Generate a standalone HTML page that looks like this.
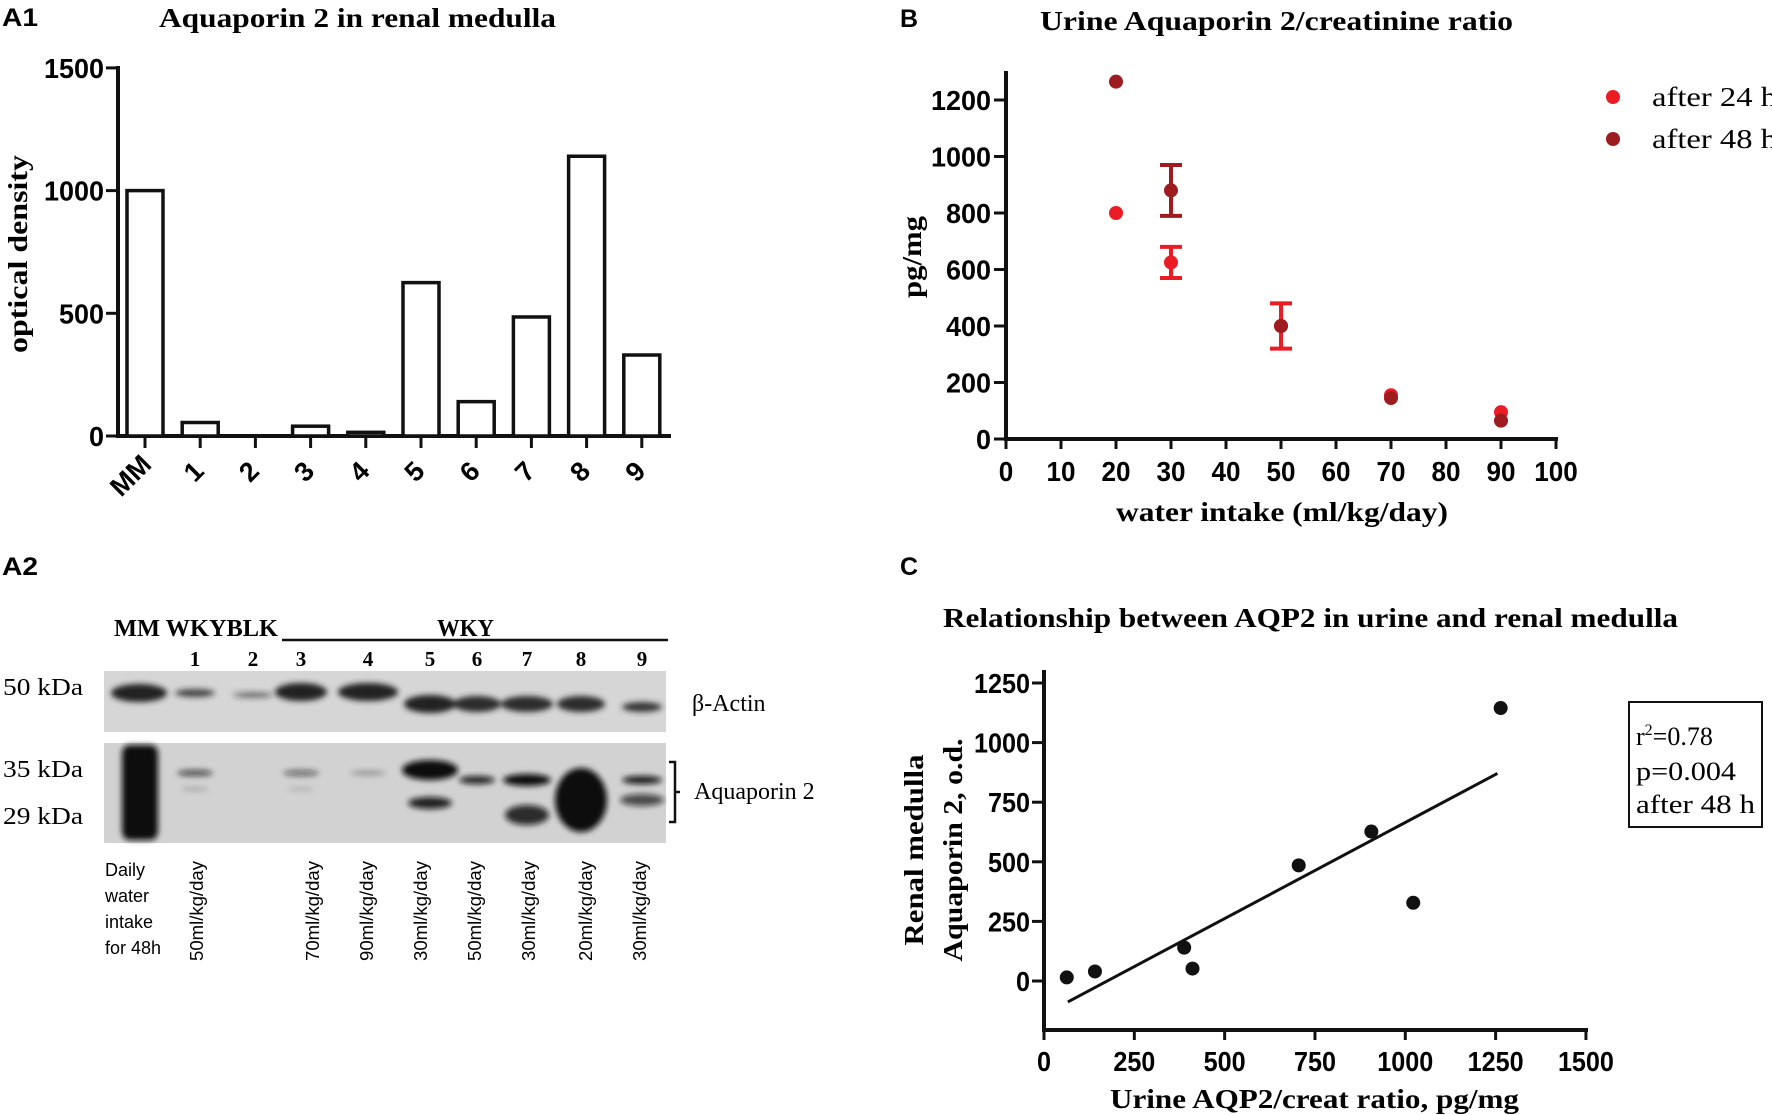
<!DOCTYPE html>
<html><head><meta charset="utf-8"><style>
html,body{margin:0;padding:0;background:#fff;overflow:hidden;}
svg{display:block;}
.ser{font-family:"Liberation Serif",serif;}
.san{font-family:"Liberation Sans",sans-serif;}
</style></head><body>
<svg id="fig" width="1772" height="1115" viewBox="0 0 1772 1115" xmlns="http://www.w3.org/2000/svg">
<defs>
<filter id="blur" x="-50%" y="-50%" width="200%" height="200%"><feGaussianBlur stdDeviation="3"/></filter>
</defs>
<text x="2" y="26" class="san" font-weight="bold" font-size="25" textLength="36" lengthAdjust="spacingAndGlyphs">A1</text>
<text x="900" y="27" class="san" font-weight="bold" font-size="25">B</text>
<text x="2" y="575" class="san" font-weight="bold" font-size="25" textLength="36" lengthAdjust="spacingAndGlyphs">A2</text>
<text x="900" y="575" class="san" font-weight="bold" font-size="25">C</text>

<text x="159" y="27" class="ser" font-weight="bold" font-size="27" textLength="397" lengthAdjust="spacingAndGlyphs">Aquaporin 2 in renal medulla</text>
<text x="1040" y="30" class="ser" font-weight="bold" font-size="27" textLength="473" lengthAdjust="spacingAndGlyphs">Urine Aquaporin 2/creatinine ratio</text>
<text x="943" y="627" class="ser" font-weight="bold" font-size="27" textLength="735" lengthAdjust="spacingAndGlyphs">Relationship between AQP2 in urine and renal medulla</text>

<g id="a1"></g>
<g id="b"></g>
<g id="c"></g>
<g id="a2"></g>
</svg>
<script>
// ---- A1 data
const a1Categories = ["MM","1","2","3","4","5","6","7","8","9"];
const a1Values = [1000,55,0,40,15,625,140,485,1140,330];
const a1Ticks = [0,500,1000,1500];
// ---- B data
const bX = [20,30,50,70,90];
const b24Values = [800,625,400,155,95];
const b24ErrLow = [800,570,320,155,95];
const b24ErrHigh = [800,680,480,155,95];
const b48Values = [1265,880,400,145,65];
const b48ErrLow = [1265,790,400,145,65];
const b48ErrHigh = [1265,970,400,145,65];
const bXTicks = [0,10,20,30,40,50,60,70,80,90,100];
const bYTicks = [0,200,400,600,800,1000,1200];
// ---- C data
const cX = [63,141,388,411,705,906,1022,1264];
const cY = [15,40,140,52,485,627,328,1145];
const cFitSlope = [0.806];
const cFitIntercept = [-141];
const cFitRange = [66,1255];
const cXTicks = [0,250,500,750,1000,1250,1500];
const cYTicks = [0,250,500,750,1000,1250];
// ---- A2 labels
const a2LaneNums = ["1","2","3","4","5","6","7","8","9"];
const a2Intake = ["50ml/kg/day","70ml/kg/day","90ml/kg/day","30ml/kg/day","50ml/kg/day","30ml/kg/day","20ml/kg/day","30ml/kg/day"];

const NS="http://www.w3.org/2000/svg";
function mk(tag, parent, attrs){const e=document.createElementNS(NS,tag);for(const k in attrs)e.setAttribute(k,attrs[k]);parent.appendChild(e);return e;}
function txt(parent,x,y,s,size,cls,extra){const e=mk("text",parent,Object.assign({x:x,y:y,"font-size":size,class:cls},extra||{}));e.textContent=s;return e;}

// ===== A1
(function(){
const g=document.getElementById("a1");
const y0=436, per=122.7/500;
const yA=v=>y0-v*per;
const xA=i=>145+i*55.2;
let e=mk("line",g,{x1:118,y1:66,x2:118,y2:438,stroke:"#111","stroke-width":4});


e=mk("line",g,{x1:116,y1:y0,x2:671,y2:y0,stroke:"#111","stroke-width":4});


a1Ticks.forEach(t=>{
 mk("line",g,{x1:106,y1:yA(t),x2:118,y2:yA(t),stroke:"#111","stroke-width":3});
 const l=txt(g,104,yA(t)+10,String(t),28,"san",{"font-weight":"bold","text-anchor":"end",textLength:String(t).length*15,lengthAdjust:"spacingAndGlyphs"});
 
 
});
a1Categories.forEach((c,i)=>{
 const x=xA(i);
 const r=mk("rect",g,{x:x-18,y:yA(a1Values[i]),width:36,height:y0-yA(a1Values[i]),fill:"#fff",stroke:"#111","stroke-width":3.5});
 
 
 mk("line",g,{x1:x,y1:y0,x2:x,y2:448,stroke:"#111","stroke-width":3});
 const l=txt(g,0,0,c,27,"san",{"font-weight":"bold","text-anchor":"middle",transform:"translate("+(x-(c.length>1?8:0))+","+(c.length>1?482:478)+") rotate(-45)"});
 
 
});
const yl=txt(g,0,0,"optical density",27,"ser",{"font-weight":"bold","text-anchor":"middle",transform:"translate(27,254) rotate(-90)",textLength:198,lengthAdjust:"spacingAndGlyphs"});


})();

// ===== B
(function(){
const g=document.getElementById("b");
const xB=v=>1006+v*5.5;
const yB=v=>439-v*56.5/200;
let e=mk("line",g,{x1:1006,y1:71,x2:1006,y2:441,stroke:"#111","stroke-width":4});


e=mk("line",g,{x1:1004,y1:439,x2:1558,y2:439,stroke:"#111","stroke-width":4});


bYTicks.forEach(t=>{
 mk("line",g,{x1:994,y1:yB(t),x2:1006,y2:yB(t),stroke:"#111","stroke-width":3});
 const l=txt(g,991,yB(t)+10,String(t),28,"san",{"font-weight":"bold","text-anchor":"end",textLength:String(t).length*15,lengthAdjust:"spacingAndGlyphs"});
 
 
});
bXTicks.forEach(t=>{
 mk("line",g,{x1:xB(t),y1:439,x2:xB(t),y2:449,stroke:"#111","stroke-width":3});
 const l=txt(g,xB(t),481,String(t),28,"san",{"font-weight":"bold","text-anchor":"middle",textLength:String(t).length*14.5,lengthAdjust:"spacingAndGlyphs"});
 
 
});
function series(vals,lo,hi,col,name){
 vals.forEach((v,i)=>{
  const x=xB(bX[i]);
  if(hi[i]!==lo[i]){
   const eb=mk("g",g,{stroke:col,"stroke-width":4});
   
   
   mk("line",eb,{x1:x,y1:yB(hi[i]),x2:x,y2:yB(lo[i])});
   mk("line",eb,{x1:x-11,y1:yB(hi[i]),x2:x+11,y2:yB(hi[i])});
   mk("line",eb,{x1:x-11,y1:yB(lo[i]),x2:x+11,y2:yB(lo[i])});
  }
  const c=mk("ellipse",g,{cx:x,cy:yB(v),rx:7,ry:7,fill:col});
  
  
 });
}
series(b24Values,b24ErrLow,b24ErrHigh,"#ec1c24","b-after-24h");
series(b48Values,b48ErrLow,b48ErrHigh,"#9e1b20","b-after-48h");
let d=mk("ellipse",g,{cx:1613,cy:97,rx:7,ry:7,fill:"#ec1c24"});


d=mk("ellipse",g,{cx:1613,cy:139,rx:7,ry:7,fill:"#9e1b20"});


let l=txt(g,1652,106,"after 24 h",27,"ser",{textLength:125,lengthAdjust:"spacingAndGlyphs"});


l=txt(g,1652,148,"after 48 h",27,"ser",{textLength:125,lengthAdjust:"spacingAndGlyphs"});


l=txt(g,1116,521,"water intake (ml/kg/day)",27,"ser",{"font-weight":"bold",textLength:332,lengthAdjust:"spacingAndGlyphs"});


l=txt(g,0,0,"pg/mg",27,"ser",{"font-weight":"bold","text-anchor":"middle",transform:"translate(921,257) rotate(-90)",textLength:82,lengthAdjust:"spacingAndGlyphs"});


})();

// ===== C
(function(){
const g=document.getElementById("c");
const xC=v=>1044+v*0.3613;
const yC=v=>981-v*59.6/250;
let e=mk("line",g,{x1:1044,y1:670,x2:1044,y2:1032,stroke:"#111","stroke-width":4});


e=mk("line",g,{x1:1042,y1:1030,x2:1588,y2:1030,stroke:"#111","stroke-width":4});


cYTicks.forEach(t=>{
 mk("line",g,{x1:1032,y1:yC(t),x2:1044,y2:yC(t),stroke:"#111","stroke-width":3});
 const l=txt(g,1030,yC(t)+10,String(t),28,"san",{"font-weight":"bold","text-anchor":"end",textLength:String(t).length*14,lengthAdjust:"spacingAndGlyphs"});
 
 
});
cXTicks.forEach(t=>{
 mk("line",g,{x1:xC(t),y1:1030,x2:xC(t),y2:1040,stroke:"#111","stroke-width":3});
 const l=txt(g,xC(t),1071,String(t),28,"san",{"font-weight":"bold","text-anchor":"middle",textLength:String(t).length*14,lengthAdjust:"spacingAndGlyphs"});
 
 
});
const f=mk("line",g,{x1:xC(cFitRange[0]),y1:yC(cFitSlope[0]*cFitRange[0]+cFitIntercept[0]),x2:xC(cFitRange[1]),y2:yC(cFitSlope[0]*cFitRange[1]+cFitIntercept[0]),stroke:"#111","stroke-width":3});


cX.forEach((x,i)=>{
 const c=mk("ellipse",g,{cx:xC(x),cy:yC(cY[i]),rx:7,ry:7,fill:"#111"});
 
 
});
const box=mk("rect",g,{x:1629,y:702,width:133,height:125,fill:"#fff",stroke:"#111","stroke-width":2});


let l=txt(g,1636,745,"",26,"ser",{});
l.innerHTML='r<tspan dy="-10" font-size="16">2</tspan><tspan dy="10">=0.78</tspan>';


l=txt(g,1636,780,"p=0.004",26,"ser",{textLength:100,lengthAdjust:"spacingAndGlyphs"});


l=txt(g,1636,813,"after 48 h",26,"ser",{textLength:119,lengthAdjust:"spacingAndGlyphs"});


l=txt(g,1110,1108,"Urine AQP2/creat ratio, pg/mg",27,"ser",{"font-weight":"bold",textLength:409,lengthAdjust:"spacingAndGlyphs"});


l=txt(g,0,0,"Renal medulla",27,"ser",{"font-weight":"bold","text-anchor":"middle",transform:"translate(923,850) rotate(-90)",textLength:191,lengthAdjust:"spacingAndGlyphs"});


l=txt(g,0,0,"Aquaporin 2, o.d.",27,"ser",{"font-weight":"bold","text-anchor":"middle",transform:"translate(962,850) rotate(-90)",textLength:223,lengthAdjust:"spacingAndGlyphs"});


})();

// ===== A2 blot
(function(){
const g=document.getElementById("a2");
const laneX=[139,195,253,301,368,430,477,527,581,642];
let l=txt(g,114,636,"MM WKYBLK",24,"ser",{"font-weight":"bold",textLength:164,lengthAdjust:"spacingAndGlyphs"});


l=txt(g,437,636,"WKY",24,"ser",{"font-weight":"bold",textLength:57,lengthAdjust:"spacingAndGlyphs"});


mk("line",g,{x1:282,y1:640,x2:668,y2:640,stroke:"#111","stroke-width":2.5});
a2LaneNums.forEach((n,i)=>{
 const t=txt(g,laneX[i+1],666,n,21,"ser",{"font-weight":"bold","text-anchor":"middle"});
 
 
});
const p1=mk("rect",g,{x:104,y:671,width:562,height:61,fill:"#d6d6d6"});


const p2=mk("rect",g,{x:104,y:743,width:562,height:100,fill:"#d2d2d2"});


const actin=[[139,28,9,1,693],[195,20,4,0.8,693],[253,20,3,0.55,695],[301,26,9,1,692],[368,30,9,1,692],[430,26,9,1,704],[477,24,8,0.95,704],[527,26,8,0.95,704],[581,24,8,0.95,704],[642,20,5,0.9,707]];
const ag=mk("g",g,{filter:"url(#blur)"});
actin.forEach(a=>mk("ellipse",ag,{cx:a[0],cy:a[4],rx:a[1],ry:a[2],fill:"#222","fill-opacity":a[3]}));
const bg=mk("g",g,{filter:"url(#blur)"});
mk("rect",bg,{x:122,y:745,width:36,height:95,rx:8,fill:"#111"});
[[195,773,18,3,0.7],[195,789,14,2,0.2],[301,773,18,3,0.55],[301,789,14,2,0.15],[368,773,18,2,0.35],[430,770,28,10,1],[430,803,22,6,0.9],[477,780,18,4,0.9],[527,780,24,6,1],[527,815,22,10,0.85],[581,800,26,32,1],[642,780,20,4,0.95],[642,800,22,6,0.7]].forEach(b=>mk("ellipse",bg,{cx:b[0],cy:b[1],rx:b[2],ry:b[3],fill:"#111","fill-opacity":b[4]}));
[["50 kDa",695],["35 kDa",777],["29 kDa",824]].forEach(k=>{const t=txt(g,3,k[1],k[0],24,"ser",{textLength:80,lengthAdjust:"spacingAndGlyphs"});});
l=txt(g,692,711,"β-Actin",24,"ser",{});


l=txt(g,694,799,"Aquaporin 2",24,"ser",{});


mk("path",g,{d:"M669 762 L675 762 L675 822 L669 822 M675 792 L680 792",stroke:"#111","stroke-width":2.5,fill:"none"});
["Daily","water","intake","for 48h"].forEach((s,i)=>{const t=txt(g,105,876+i*26,s,18,"san",{});});
const intakeX=[196,312,366,420,474,528,585,639];
a2Intake.forEach((s,i)=>{
 const t=txt(g,0,0,s,18,"san",{transform:"translate("+(intakeX[i]+7)+",961) rotate(-90)",textLength:100,lengthAdjust:"spacingAndGlyphs"});
 
 
});
})();
</script>
</body></html>
